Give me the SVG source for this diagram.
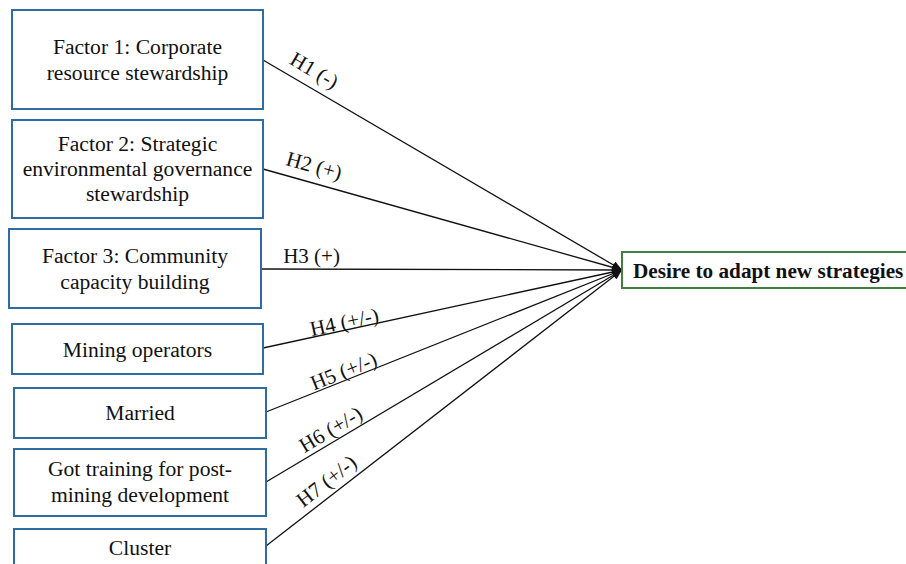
<svg xmlns="http://www.w3.org/2000/svg" width="906" height="564" viewBox="0 0 906 564" font-family="'Liberation Serif', 'DejaVu Serif', serif">
<style>
.box{fill:#fff;stroke:#2E6DA4;stroke-width:2}
.tbox{fill:#fff;stroke:#3F7F3F;stroke-width:2}
text{font-family:'Liberation Serif','DejaVu Serif',serif}
.t{font-size:21.6px;fill:#111;text-anchor:middle}
.tb{font-size:21.2px;font-weight:bold;fill:#111}
.lbl{font-size:21px;fill:#111;text-anchor:middle}
.c{stroke:#111;stroke-width:1.3;fill:none;marker-end:url(#arr)}
</style>
<defs>
<marker id="arr" markerUnits="userSpaceOnUse" markerWidth="10" markerHeight="8" refX="10" refY="4" orient="auto">
<path d="M0,0 L10,4 L0,8 z" fill="#111"/>
</marker>
</defs>
<rect width="906" height="564" fill="#fff"/>
<g id="connectors">
<line class="c" x1="263" y1="60" x2="622" y2="270"/>
<line class="c" x1="263" y1="169" x2="622" y2="270"/>
<line class="c" x1="261" y1="269" x2="622" y2="270"/>
<line class="c" x1="263" y1="348" x2="622" y2="270"/>
<line class="c" x1="266" y1="412" x2="622" y2="270"/>
<line class="c" x1="266" y1="482" x2="622" y2="270"/>
<line class="c" x1="266" y1="546" x2="622" y2="270"/>
<text class="lbl" transform="translate(305.7,85.1) rotate(30.5)" y="-10">H1 (-)</text>
<text class="lbl" transform="translate(309.5,182.1) rotate(15.8)" y="-10">H2 (+)</text>
<text class="lbl" transform="translate(311.5,269)" y="-6">H3 (+)</text>
<text class="lbl" transform="translate(346,329.9) rotate(-12.3)" y="-1">H4 (+/-)</text>
<text class="lbl" transform="translate(347,379.5) rotate(-21.9)" y="-2">H5 (+/-)</text>
<text class="lbl" transform="translate(336.8,439.7) rotate(-30.9)" y="-5">H6 (+/-)</text>
<text class="lbl" transform="translate(335,492.2) rotate(-37.9)" y="-7">H7 (+/-)</text>
</g>
<g id="n1"><rect class="box" x="12" y="10" width="251" height="99"/>
<text class="t" x="137.5" y="54">Factor 1: Corporate</text>
<text class="t" x="137.5" y="80">resource stewardship</text></g>
<g id="n2"><rect class="box" x="12" y="120" width="251" height="98"/>
<text class="t" x="137.5" y="151">Factor 2: Strategic</text>
<text class="t" x="137.5" y="176">environmental governance</text>
<text class="t" x="137.5" y="201">stewardship</text></g>
<g id="n3"><rect class="box" x="9" y="229" width="252" height="79"/>
<text class="t" x="135" y="263">Factor 3: Community</text>
<text class="t" x="135" y="289">capacity building</text></g>
<g id="n4"><rect class="box" x="12" y="324" width="251" height="50"/>
<text class="t" x="137.5" y="357">Mining operators</text></g>
<g id="n5"><rect class="box" x="14" y="388" width="252" height="50"/>
<text class="t" x="140" y="420">Married</text></g>
<g id="n6"><rect class="box" x="14" y="449" width="252" height="67"/>
<text class="t" x="140" y="476">Got training for post-</text>
<text class="t" x="140" y="502">mining development</text></g>
<g id="n7"><rect class="box" x="14" y="529" width="252" height="60"/>
<text class="t" x="140" y="555">Cluster</text></g>
<g id="target"><rect class="tbox" x="622" y="252" width="300" height="36"/>
<text class="tb" x="633" y="278">Desire to adapt new strategies</text></g>
</svg>
